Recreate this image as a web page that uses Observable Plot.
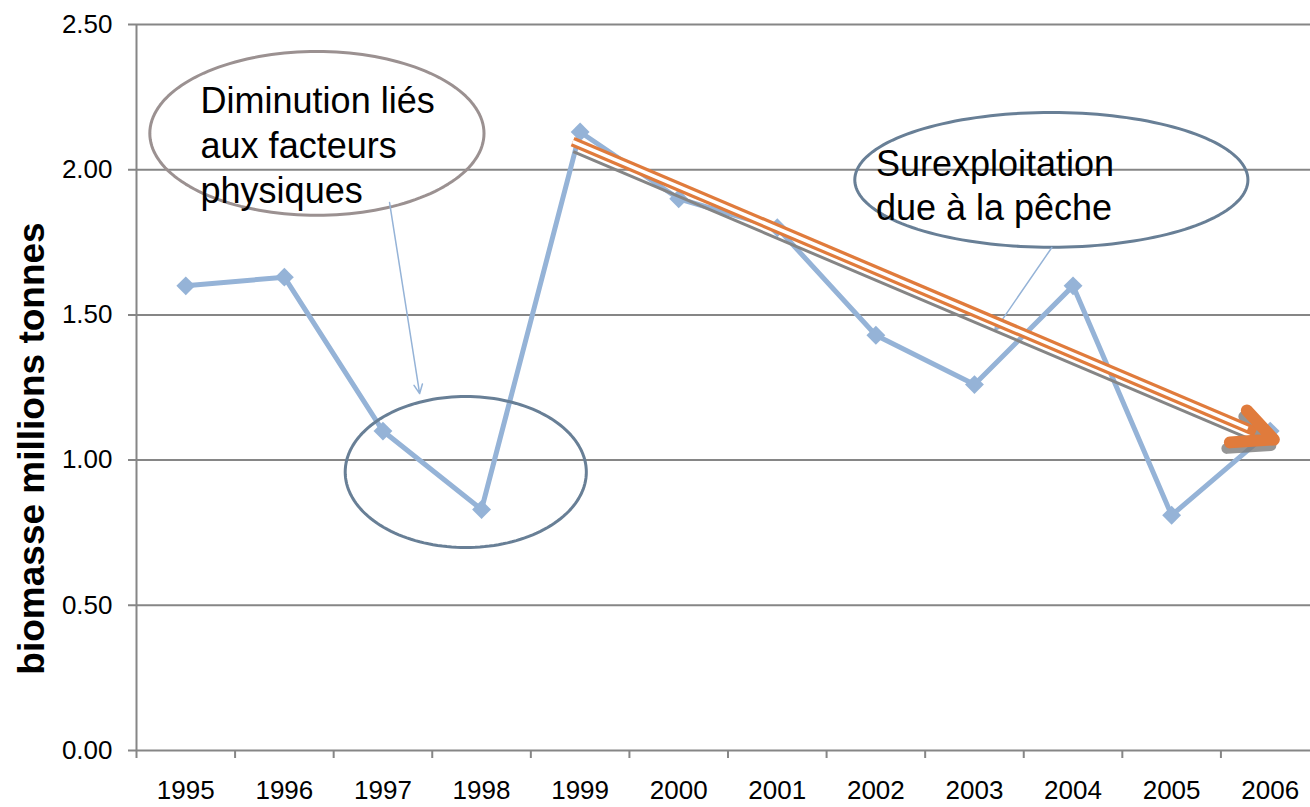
<!DOCTYPE html>
<html><head><meta charset="utf-8">
<script src="https://cdn.jsdelivr.net/npm/d3@7"></script>
<script src="https://cdn.jsdelivr.net/npm/@observablehq/plot@0.6"></script>
<style>html,body{margin:0;padding:0;background:#fff;} svg{display:block;}</style>
</head><body><div id="chart"></div>
<script>
// ---- data ----
const years = [1995, 1996, 1997, 1998, 1999, 2000, 2001, 2002, 2003, 2004, 2005, 2006];
const biomass = [1.60, 1.63, 1.10, 0.83, 2.13, 1.90, 1.80, 1.43, 1.26, 1.60, 0.81, 1.10];
const yTicks = [0, 0.5, 1.0, 1.5, 2.0, 2.5];
const yTickLabels = ["0.00", "0.50", "1.00", "1.50", "2.00", "2.50"];
const xTickLabels = ["1995", "1996", "1997", "1998", "1999", "2000", "2001", "2002", "2003", "2004", "2005", "2006"];
const yTitle = "biomasse millions tonnes";
const note1 = "Diminution liés\naux facteurs\nphysiques";
const note2 = "Surexploitation\ndue à la pêche";

// ---- annotation geometry (data coordinates) ----
const ellipses = [
  {cx: 1996.33, cy: 2.125, rx: 1.695, ry: 0.282, stroke: "#9b9191"},
  {cx: 1997.84, cy: 0.959, rx: 1.223, ry: 0.260, stroke: "#687f96"},
  {cx: 2003.78, cy: 1.965, rx: 1.994, ry: 0.232, stroke: "#687f96"}
];
const notes = [
  {x: 1995.15, y: 2.303, t: note1},
  {x: 2002.00, y: 2.088, t: note2}
];
const callouts = [
  {x1: 1997.067, y1: 1.887, x2: 1997.372, y2: 1.229},
  {x1: 2003.785, y1: 1.732, x2: 2003.206, y2: 1.446}
];
const trendShaft = {x1: 1998.924, y1: 2.097, x2: 2005.855, y2: 1.0975};
const trendWhite = {x1: 1998.924, y1: 2.097, x2: 2005.773, y2: 1.109};
const trendShadow = {x1: 1998.93, y1: 2.062, x2: 2005.885, y2: 1.059};
const trendHead = [
  {x: 2005.763, y: 1.171},
  {x: 2006.037, y: 1.071},
  {x: 2005.591, y: 1.061}
];
const titlePos = {x: 1993.445, y: 1.040};

// ---- build ----
const table = years.map((year, i) => ({year, value: biomass[i], label: xTickLabels[i]}));
const yTable = yTicks.map((v, i) => ({v, label: yTickLabels[i]}));
const boundaries = years.map(y => y - 0.5);
const blue = "#95b3d7", gray = "#868686", orange = "#e07b3c";

function ellipsePts(e) {
  const n = 160;
  return d3.range(n + 1).map(i => {
    const t = 2 * Math.PI * i / n;
    return {x: e.cx + e.rx * Math.cos(t), y: e.cy + e.ry * Math.sin(t)};
  });
}

const chart = Plot.plot({
  width: 1310,
  height: 807,
  marginLeft: 136,
  marginRight: 0,
  marginTop: 24,
  marginBottom: 57,
  style: {fontFamily: "'Liberation Sans', Arial, sans-serif", background: "#fff", overflow: "visible"},
  x: {type: "linear", domain: [1994.5, 2006.5], range: [136, 1319]},
  y: {domain: [0, 2.5], axis: null},
  marks: [
    Plot.ruleY(yTable, {y: "v", stroke: gray, strokeWidth: 2, insetLeft: -8}),
    Plot.ruleX([1994.5], {stroke: gray, strokeWidth: 2}),
    Plot.axisX(boundaries, {tickSize: 8, tickFormat: () => "", color: gray, strokeWidth: 2}),
    Plot.text(yTable, {y: "v", text: "label", frameAnchor: "left", dx: -24, textAnchor: "end", fontSize: 26, fill: "#000"}),
    Plot.text(table, {x: "year", text: "label", frameAnchor: "bottom", dy: 48, fontSize: 26, fill: "#000"}),
    Plot.text([titlePos], {x: "x", y: "y", text: () => yTitle, rotate: -90, fontSize: 37, fontWeight: "bold", fill: "#000"}),
    // series
    Plot.line(table, {x: "year", y: "value", stroke: blue, strokeWidth: 5}),
    Plot.dot(table, {x: "year", y: "value", symbol: "diamond2", r: 8.5, fill: blue}),
    // ellipses
    ...ellipses.map(e => Plot.line(ellipsePts(e), {x: "x", y: "y", stroke: e.stroke, strokeWidth: 3})),
    // notes
    Plot.text(notes, {x: "x", y: "y", text: "t", textAnchor: "start", lineAnchor: "top", lineHeight: 1.24, fontSize: 36, fill: "#000"}),
    // callout arrows
    Plot.arrow(callouts, {x1: "x1", y1: "y1", x2: "x2", y2: "y2", stroke: blue, strokeWidth: 1.5, headLength: 10, headAngle: 50}),
    // trend arrow: shadow, orange shaft, white gap, head
    Plot.link([trendShadow], {x1: "x1", y1: "y1", x2: "x2", y2: "y2", stroke: "#858585", strokeWidth: 3}),
    Plot.line(trendHead, {x: "x", y: "y", dx: -3, dy: 6, stroke: "#7a7a7a", strokeWidth: 11, strokeOpacity: 0.8, strokeLinecap: "round", strokeLinejoin: "round"}),
    Plot.link([trendShaft], {x1: "x1", y1: "y1", x2: "x2", y2: "y2", stroke: orange, strokeWidth: 10}),
    Plot.link([trendWhite], {x1: "x1", y1: "y1", x2: "x2", y2: "y2", stroke: "#fff", strokeWidth: 3.5}),
    Plot.line(trendHead, {x: "x", y: "y", stroke: orange, strokeWidth: 12, strokeLinecap: "round", strokeLinejoin: "round"})
  ]
});
document.getElementById("chart").appendChild(chart);
</script>
</body></html>
